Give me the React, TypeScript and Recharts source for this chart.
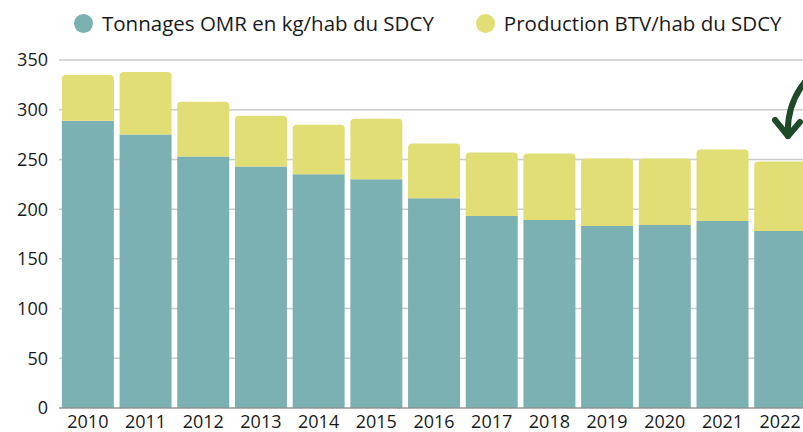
import { BarChart, Bar, XAxis, YAxis, CartesianGrid } from "recharts";

const years = ["2010", "2011", "2012", "2013", "2014", "2015", "2016", "2017", "2018", "2019", "2020", "2021", "2022"];
const omr = [289, 275, 253, 243, 235, 230, 211, 193, 189, 183, 184, 188, 178];
const btv = [46, 63, 55, 51, 50, 61, 55, 64, 67, 68, 67, 72, 70];
const yTicks = [0, 50, 100, 150, 200, 250, 300, 350];

const TEAL = "#7bb1b3";
const YELLOW = "#e1de75";
const FONT = "'Open Sans', sans-serif";

const data = years.map((y, i) => ({ year: y, omr: omr[i], btv: btv[i] }));

function LegendBlock() {
  const items = [
    { label: "Tonnages OMR en kg/hab du SDCY", color: TEAL },
    { label: "Production BTV/hab du SDCY", color: YELLOW },
  ];
  return (
    <div style={{ position: "absolute", left: 74, top: 9, display: "flex", gap: 42, fontFamily: FONT, fontSize: 20.5, color: "#1a1a1a", whiteSpace: "nowrap" }}>
      {items.map(it => (
        <div key={it.label} style={{ display: "flex", alignItems: "center" }}>
          <span style={{ width: 19, height: 19, borderRadius: "50%", background: it.color, display: "inline-block", marginRight: 9 }} />
          {it.label}
        </div>
      ))}
    </div>
  );
}

export default function App() {
  return (
    <div style={{ position: "absolute", left: 0, top: 0, width: 803, height: 432, overflow: "hidden", background: "#fff" }}>
      <BarChart width={820} height={432} data={data} barCategoryGap="5%"
                margin={{ top: 60, right: 11, left: 0, bottom: 0 }}>
        <CartesianGrid vertical={false} stroke="#cccccc" strokeWidth={1.5} />
        <XAxis dataKey="year" height={24} tickLine={false} axisLine={{ stroke: "#888" }}
               tickMargin={1} tick={{ fontSize: 18, fill: "#1a1a1a", fontFamily: FONT }} interval={0} />
        <YAxis width={59} domain={[0, 350]} ticks={yTicks} tickLine={false} axisLine={false}
               tickMargin={5} tick={{ fontSize: 18, fill: "#1a1a1a", fontFamily: FONT }} />
        <Bar dataKey="omr" stackId="a" fill={TEAL} isAnimationActive={false} />
        <Bar dataKey="btv" stackId="a" fill={YELLOW} radius={[4, 4, 0, 0]} isAnimationActive={false} />
      </BarChart>
      <LegendBlock />
      <svg width={803} height={432} style={{ position: "absolute", left: 0, top: 0, pointerEvents: "none" }}>
        <path d="M 805 82 C 792 98, 787 118, 788 136" fill="none" stroke="#1d4a28" strokeWidth={6} strokeLinecap="round" />
        <path d="M 775 120 L 788 136 L 800 122" fill="none" stroke="#1d4a28" strokeWidth={6} strokeLinecap="round" strokeLinejoin="round" />
      </svg>
    </div>
  );
}
